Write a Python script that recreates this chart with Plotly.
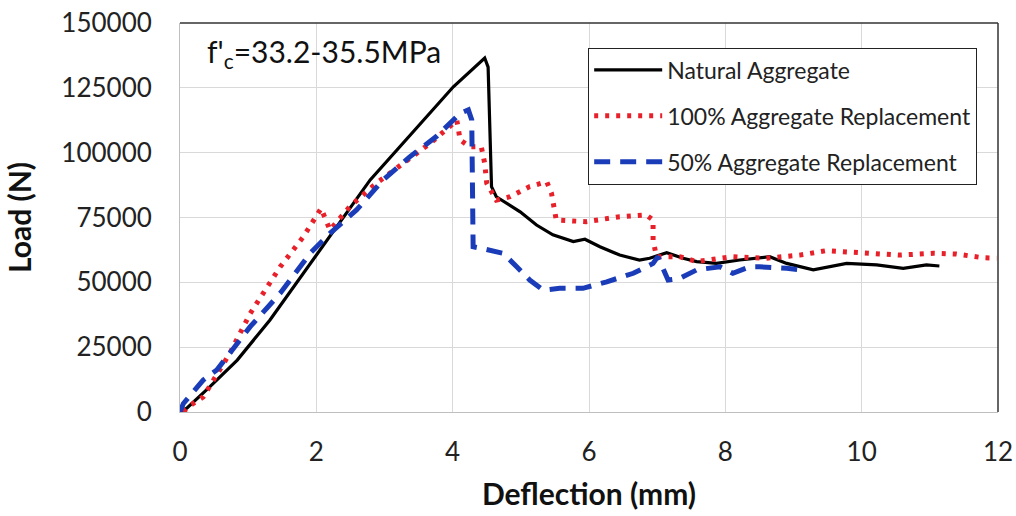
"""
Load-deflection curves for natural vs. replaced aggregate beams.
"""
import plotly.graph_objects as go

# Natural aggregate (black, solid)
nat_x = [0.0, 0.1, 0.44, 0.84, 1.32, 1.81, 2.79, 4.01, 4.47, 4.52, 4.55, 4.57, 4.64, 4.79, 4.99,
         5.23, 5.47, 5.77, 5.94, 6.16, 6.45, 6.74, 6.89, 7.14, 7.38, 7.58, 7.87, 8.21, 8.65,
         8.9, 9.29, 9.78, 10.22, 10.61, 10.95, 11.14]
nat_y = [0, 1500, 9800, 20000, 35500, 53500, 89500, 125400, 136500, 133000, 100000, 86900, 83000,
         80500, 77200, 72100, 68300, 65700, 66600, 63700, 60500, 58600, 59300, 61400, 59300,
         58000, 57300, 58600, 59900, 57300, 54800, 57300, 56700, 55400, 56700, 56300]

# 100% aggregate replacement (red, dotted)
r100_x = [0.05, 0.12, 0.34, 0.73, 1.03, 1.47, 1.81, 2.05, 2.07, 2.2, 2.49, 2.88, 3.27, 3.67,
          4.01, 4.06, 4.11, 4.25, 4.42, 4.47, 4.5, 4.64, 4.84, 5.13, 5.38, 5.45, 5.52, 5.96,
          6.45, 6.84, 6.94, 6.94, 6.99, 7.33, 7.58, 8.11, 8.6, 9.09, 9.48, 10.07, 10.56,
          11.05, 11.39, 11.58, 11.78, 11.98]
r100_y = [0, 2000, 5800, 22600, 38000, 56000, 67600, 77900, 78500, 70200, 79200, 88200, 95900,
          103600, 111300, 112600, 104900, 102300, 102300, 95900, 88200, 81700, 83000, 86900,
          88800, 84300, 74000, 73400, 75300, 76000, 74000, 66300, 59900, 59900, 58000, 59900,
          59300, 60500, 62200, 61200, 60500, 61200, 60900, 60200, 59500, 59300]

# 50% aggregate replacement (blue, dashed)
r50_x = [0.0, 0.05, 0.34, 0.54, 1.03, 1.47, 1.91, 2.2, 2.59, 2.98, 3.37, 3.76, 4.11, 4.23, 4.28,
         4.3, 4.42, 4.74, 4.94, 5.13, 5.33, 5.57, 5.91, 6.26, 6.65, 6.94, 7.01, 7.16, 7.33,
         7.58, 7.92, 8.11, 8.36, 8.5, 8.9, 9.19]
r50_y = [0, 3300, 12300, 16200, 32900, 45800, 61200, 68900, 77900, 89500, 98400, 106200, 115200,
         116500, 112600, 63700, 63100, 61200, 56000, 50900, 47000, 47700, 47700, 50200, 53500,
         57300, 59900, 50900, 51500, 54800, 56000, 53500, 56000, 56000, 55400, 54500]

x_ticks = [0, 2, 4, 6, 8, 10, 12]
y_ticks = [0, 25000, 50000, 75000, 100000, 125000, 150000]

FONT = "Lato, Carlito, Calibri, sans-serif"

fig = go.Figure()
fig.add_trace(go.Scatter(x=nat_x, y=nat_y, mode="lines", name="Natural Aggregate",
                         legendgroup="a", line=dict(color="#000000", width=3.2)))
fig.add_trace(go.Scatter(x=r100_x, y=r100_y, mode="lines", name="100% Aggregate Replacement",
                         legendgroup="b", line=dict(color="#e8202a", width=5, dash="4px,7px")))
fig.add_trace(go.Scatter(x=r50_x, y=r50_y, mode="lines", name="50% Aggregate Replacement",
                         legendgroup="c", line=dict(color="#1a3cb8", width=5, dash="16px,10px")))

fig.update_layout(
    width=1016, height=516,
    margin=dict(l=180, r=18, t=23, b=104),
    paper_bgcolor="white", plot_bgcolor="white",
    font=dict(family=FONT, color="#222222"),
    legend=dict(x=0.499, y=0.937, xanchor="left", yanchor="top",
                bgcolor="white", bordercolor="#222222", borderwidth=1, itemwidth=68,
                font=dict(size=23, color="#222222"), tracegroupgap=13),
    showlegend=True,
)
fig.update_xaxes(range=[0, 12], tickvals=x_ticks, showgrid=True, gridcolor="#d9d9d9",
                 showline=True, linecolor="#bfbfbf", linewidth=1, zeroline=False,
                 automargin=False, tickfont=dict(size=26), ticklabelstandoff=17,
                 ticklabeloverflow="allow",
                 title=dict(text="<b>Deflection (mm)</b>", font=dict(size=30, color="#111111"),
                            standoff=17))
fig.update_yaxes(range=[0, 150000], tickvals=y_ticks, tickformat="d", showgrid=True,
                 gridcolor="#d9d9d9", showline=True, linecolor="#bfbfbf", linewidth=1,
                 zeroline=False, automargin=False, tickfont=dict(size=26), ticklabelstandoff=22,
                 ticklabeloverflow="allow",
                 title=dict(text="<b>Load (N)</b>", font=dict(size=30, color="#111111"),
                            standoff=20))

# dark border on top and right of the plot area
fig.add_shape(type="line", xref="paper", yref="paper", x0=0, x1=1, y0=1, y1=1,
              line=dict(color="#333333", width=1.5))
fig.add_shape(type="line", xref="paper", yref="paper", x0=1, x1=1, y0=0, y1=1,
              line=dict(color="#333333", width=1.5))

fig.add_annotation(x=0.36, y=138500, xanchor="left", yanchor="middle", showarrow=False,
                   text="f'<sub>c</sub>=33.2-35.5MPa", font=dict(size=30, color="#111111"))

# drop the default page margin so the figure fills the window exactly
fig.write_html("out.html", config={"displayModeBar": False},
               post_script="document.body.style.margin = '0';")
